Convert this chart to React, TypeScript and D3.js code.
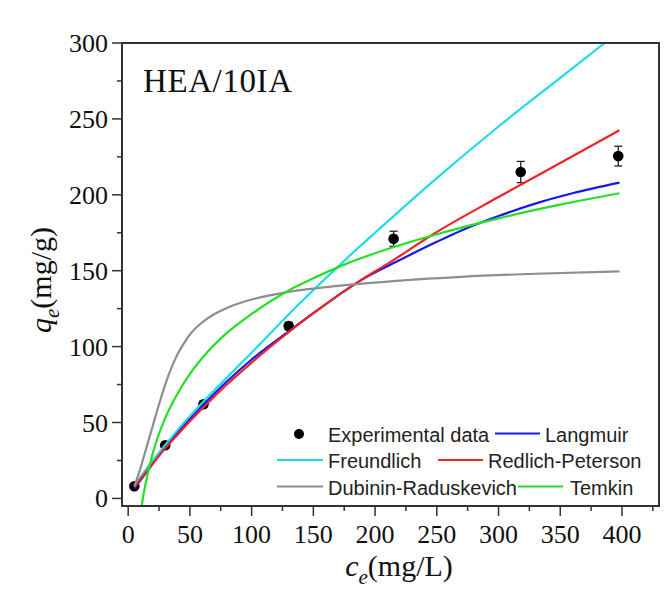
import React from 'react';
import * as d3 from 'd3';

// canvas + plot frame
const W = 672;
const H = 597;
const frame = { left: 122, right: 659, top: 43, bottom: 506 };

const serif = '"Liberation Serif", "Times New Roman", serif';
const sans = '"Liberation Sans", Arial, sans-serif';

// axis ticks
const xTicks = [0, 50, 100, 150, 200, 250, 300, 350, 400];
const xMinor = [25, 75, 125, 175, 225, 275, 325, 375, 425];
const yTicks = [0, 50, 100, 150, 200, 250, 300];
const yMinor = [25, 75, 125, 175, 225, 275];

// experimental points (ce, qe, error)
const expC = [5, 30, 61, 130, 215, 318, 397];
const expQ = [8, 35, 62, 113.5, 171, 215, 225.5];
const expErr = [1.5, 2, 2, 2.5, 5, 7, 6.5];

// fitted curves, [ce, qe]
const langmuir = [[5, 6.5], [20, 23], [30, 34], [40, 43.5], [60, 61], [80, 77], [100, 91.5], [130, 110], [150, 122], [188, 143.5], [220, 157], [250, 169], [270, 176.5], [300, 186], [333, 195], [360, 201], [398, 208]];
const freundlich = [[5, 8.5], [20, 25], [40, 45], [60, 63], [86, 84.5], [100, 96], [139, 128.5], [175.6, 157], [200, 175], [250, 211], [300, 245], [350, 277], [386, 300]];
const redlich = [[5, 7.5], [20, 23], [30, 33], [40, 42], [61, 60], [80, 75], [100, 89.5], [130, 109.5], [150, 122], [188, 143.5], [212, 155.5], [247, 174], [300, 198.5], [350, 221], [398, 242.5]];
const dubinin = [[5, 8], [10, 20], [15, 34], [20, 48], [25, 62], [30, 75], [35, 86], [40, 95], [45, 102], [50, 108], [60, 116], [70, 121.5], [80, 125.5], [100, 131], [130, 136], [170, 140], [220, 143.5], [270, 146], [330, 148], [398, 149.5]];
const temkin = [[11, -5], [12, 0.5], [15, 13], [20, 30], [30, 53], [40, 69], [50, 82], [60, 92.5], [80, 109], [100, 121.5], [130, 137], [150, 145], [175, 154], [200, 161.5], [250, 174], [300, 184.5], [350, 193.5], [398, 201]];

const series = [
  { name: 'Langmuir', data: langmuir, color: '#1818e8' },
  { name: 'Freundlich', data: freundlich, color: '#1ddce8' },
  { name: 'Redlich-Peterson', data: redlich, color: '#f02424' },
  { name: 'Dubinin-Raduskevich', data: dubinin, color: '#8e8e8e' },
  { name: 'Temkin', data: temkin, color: '#22e022' },
];

const x = d3.scaleLinear().domain([-5, 430]).range([frame.left, frame.right]);
const y = d3.scaleLinear().domain([-5, 300]).range([frame.bottom, frame.top]);

const line = d3.line<number[]>()
  .x(d => x(d[0]))
  .y(d => y(d[1]))
  .curve(d3.curveMonotoneX);

const axisColor = '#333';

// legend layout (Origin style, irregular columns)
const legendLines = [
  { key: 'Langmuir', x1: 495, x2: 540, cy: 433.5, tx: 545 },
  { key: 'Freundlich', x1: 277, x2: 323, cy: 460, tx: 328 },
  { key: 'Redlich-Peterson', x1: 438, x2: 483, cy: 460, tx: 488 },
  { key: 'Dubinin-Raduskevich', x1: 277, x2: 323, cy: 486.5, tx: 328 },
  { key: 'Temkin', x1: 518, x2: 563, cy: 486.5, tx: 570 },
];

export default function App() {
  const colorOf = (k: string) => series.find(s => s.name === k)!.color;

  return (
    <div style={{ position: 'absolute', left: 0, top: 0 }}>
      <svg width={W} height={H} style={{ display: 'block', background: '#fff' }}>
        <defs>
          <clipPath id="plot-clip">
            <rect x={frame.left} y={frame.top} width={frame.right - frame.left} height={frame.bottom - frame.top} />
          </clipPath>
        </defs>

        {/* experimental data with error bars */}
        <g>
          {expC.map((c, i) => {
            const cx = x(c);
            const top = y(expQ[i] + expErr[i]);
            const bot = y(expQ[i] - expErr[i]);
            return (
              <g key={i} stroke="#222" strokeWidth={1.3}>
                <line x1={cx} x2={cx} y1={top} y2={bot} />
                <line x1={cx - 4} x2={cx + 4} y1={top} y2={top} />
                <line x1={cx - 4} x2={cx + 4} y1={bot} y2={bot} />
                <circle cx={cx} cy={y(expQ[i])} r={5.3} fill="#000" stroke="none" />
              </g>
            );
          })}
        </g>

        {/* fitted curves */}
        <g clipPath="url(#plot-clip)" fill="none">
          {series.map(s => (
            <path key={s.name} d={line(s.data) || ''} stroke={s.color} strokeWidth={2.2} />
          ))}
        </g>

        {/* frame */}
        <rect x={frame.left} y={frame.top} width={frame.right - frame.left} height={frame.bottom - frame.top}
          fill="none" stroke={axisColor} strokeWidth={2} />

        {/* ticks */}
        <g stroke={axisColor} strokeWidth={1.5}>
          {xTicks.map(t => <line key={'xt' + t} x1={x(t)} x2={x(t)} y1={frame.bottom} y2={frame.bottom + 10} />)}
          {xMinor.map(t => <line key={'xm' + t} x1={x(t)} x2={x(t)} y1={frame.bottom} y2={frame.bottom + 5} />)}
          {yTicks.map(t => <line key={'yt' + t} x1={frame.left - 10} x2={frame.left} y1={y(t)} y2={y(t)} />)}
          {yMinor.map(t => <line key={'ym' + t} x1={frame.left - 5} x2={frame.left} y1={y(t)} y2={y(t)} />)}
        </g>
        <g fontFamily={serif} fontSize={26} fill="#111">
          {xTicks.map(t => (
            <text key={'xl' + t} x={x(t)} y={543} textAnchor="middle">{t}</text>
          ))}
          {yTicks.map(t => (
            <text key={'yl' + t} x={frame.left - 14} y={y(t) + 9} textAnchor="end">{t}</text>
          ))}
        </g>

        {/* axis titles */}
        <text x={399} y={576} textAnchor="middle" fontFamily={serif} fontSize={30} fill="#111">
          <tspan fontStyle="italic">c</tspan>
          <tspan fontStyle="italic" fontSize={21} dy={8}>e</tspan>
          <tspan dy={-8}>(mg/L)</tspan>
        </text>
        <text transform={`translate(51, 280) rotate(-90)`} textAnchor="middle" fontFamily={serif} fontSize={30} fill="#111">
          <tspan fontStyle="italic">q</tspan>
          <tspan fontStyle="italic" fontSize={21} dy={8}>e</tspan>
          <tspan dy={-8}>(mg/g)</tspan>
        </text>

        {/* panel label */}
        <text x={143} y={92} fontFamily={serif} fontSize={33} letterSpacing={0.6} fill="#111">HEA/10IA</text>

        {/* legend */}
        <g fontFamily={sans} fontSize={20} fill="#222">
          <circle cx={299} cy={434} r={5} fill="#000" />
          <text x={328} y={441.5}>Experimental data</text>
          {legendLines.map(l => (
            <g key={l.key}>
              <line x1={l.x1} x2={l.x2} y1={l.cy} y2={l.cy} stroke={colorOf(l.key)} strokeWidth={2.2} />
              <text x={l.tx} y={l.cy + 8}>{l.key}</text>
            </g>
          ))}
        </g>
      </svg>
    </div>
  );
}
